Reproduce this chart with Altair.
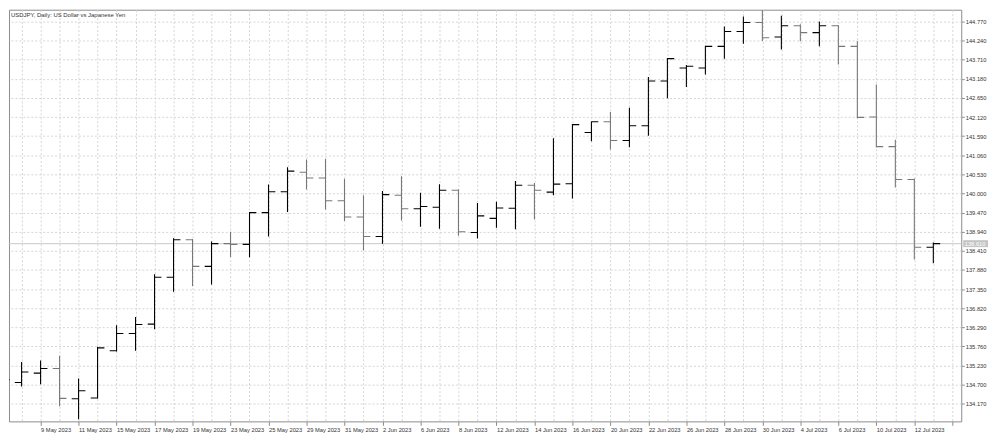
import altair as alt
import pandas as pd

# ---- data (USDJPY daily) ----
dates = ["5 May 2023", "8 May 2023", "9 May 2023", "10 May 2023", "11 May 2023", "12 May 2023",
         "15 May 2023", "16 May 2023", "17 May 2023", "18 May 2023", "19 May 2023",
         "22 May 2023", "23 May 2023", "24 May 2023", "25 May 2023", "26 May 2023",
         "29 May 2023", "30 May 2023", "31 May 2023", "1 Jun 2023", "2 Jun 2023",
         "5 Jun 2023", "6 Jun 2023", "7 Jun 2023", "8 Jun 2023", "9 Jun 2023",
         "12 Jun 2023", "13 Jun 2023", "14 Jun 2023", "15 Jun 2023", "16 Jun 2023",
         "19 Jun 2023", "20 Jun 2023", "21 Jun 2023", "22 Jun 2023", "23 Jun 2023",
         "26 Jun 2023", "27 Jun 2023", "28 Jun 2023", "29 Jun 2023", "30 Jun 2023",
         "3 Jul 2023", "4 Jul 2023", "5 Jul 2023", "6 Jul 2023", "7 Jul 2023",
         "10 Jul 2023", "11 Jul 2023", "12 Jul 2023", "13 Jul 2023"]

opens = [134.29, 134.76, 135.02, 135.15, 134.31, 134.33,
         135.64, 136.12, 136.38, 137.68, 138.72,
         137.98, 138.61, 138.59, 139.47, 140.05,
         140.59, 140.43, 139.80, 139.35, 138.81,
         139.95, 139.58, 139.62, 140.09, 138.92,
         139.31, 139.59, 140.23, 140.04, 140.27,
         141.69, 141.99, 141.47, 141.88, 143.12,
         143.48, 143.48, 144.08, 144.49, 144.74,
         144.34, 144.65, 144.46, 144.65, 144.08,
         142.12, 141.30, 140.39, 138.51]

highs = [135.13, 135.33, 135.37, 135.50, 134.87, 135.75,
         136.35, 136.58, 137.76, 138.76, 138.74,
         138.67, 138.94, 139.49, 140.25, 140.73,
         140.94, 140.96, 140.41, 139.95, 140.07,
         140.48, 140.02, 140.26, 140.11, 139.74,
         139.77, 140.35, 140.29, 141.53, 141.93,
         142.00, 142.26, 142.38, 143.23, 143.76,
         143.56, 144.10, 144.63, 144.91, 145.08,
         144.93, 144.69, 144.77, 144.67, 144.22,
         143.02, 141.49, 140.42, 138.64]

lows = [133.50, 134.65, 134.71, 134.10, 133.74, 134.32,
        135.62, 135.64, 136.24, 137.28, 137.43,
        137.48, 138.24, 138.23, 138.81, 139.49,
        140.11, 139.56, 139.24, 138.42, 138.61,
        139.25, 139.08, 139.02, 138.83, 138.75,
        139.05, 139.01, 139.28, 139.95, 139.86,
        141.45, 141.22, 141.28, 141.60, 142.64,
        142.95, 143.30, 143.74, 144.15, 144.23,
        143.99, 144.22, 144.08, 143.58, 142.09,
        141.28, 140.17, 138.17, 138.07]

closes = [134.84, 135.05, 135.15, 134.32, 134.53, 135.72,
          136.12, 136.37, 137.68, 138.72, 137.98,
          138.61, 138.59, 139.47, 140.05, 140.62,
          140.43, 139.80, 139.35, 138.81, 139.97,
          139.58, 139.64, 140.09, 138.94, 139.38,
          139.60, 140.23, 140.09, 140.26, 141.91,
          141.99, 141.47, 141.88, 143.12, 143.74,
          143.53, 144.08, 144.49, 144.74, 144.32,
          144.65, 144.46, 144.65, 144.08, 142.11,
          141.30, 140.39, 138.51, 138.61]

price_ticks = [134.170, 134.700, 135.230, 135.760, 136.290, 136.820, 137.350, 137.880,
               138.410, 138.940, 139.470, 140.000, 140.530, 141.060, 141.590, 142.120,
               142.650, 143.180, 143.710, 144.240, 144.770]

title_text = "USDJPY, Daily:  US Dollar vs Japanese Yen"

df = pd.DataFrame({"i": list(range(len(dates))), "date": dates, "open": opens,
                   "high": highs, "low": lows, "close": closes})
last = df.iloc[[-1]].copy()
last["label"] = last["close"].map(lambda v: f"{v:.3f}")

FONT = "Liberation Sans"
X_DOMAIN = [0.337, 50.47]
Y_DOMAIN = [133.683, 145.096]
HALF = 0.36

label_array = "[" + ",".join("'" + d + "'" for d in dates) + "]"
x_axis = alt.Axis(
    values=list(range(0, 51)),
    labelExpr=f"(datum.value % 2 == 0 && datum.value < {len(dates)}) ? {label_array}[datum.value] : ''",
    grid=True, gridDash=[2, 2], gridColor="#d4d4d4", gridWidth=1,
    domain=False, ticks=True, tickSize=4,
    tickColor={"condition": {"test": "datum.value % 2 == 0", "value": "#8c8c8c"}, "value": "transparent"},
    labelAlign="left", labelBaseline="top", labelPadding=1, labelFontSize=5.8,
    labelFont=FONT, labelColor="#333333", labelOverlap=False, labelBound=False,
    labelFlush=False, title=None,
)
y_axis = alt.Axis(
    orient="right", values=price_ticks, format=".3f",
    grid=True, gridDash=[2, 2], gridColor="#d4d4d4", gridWidth=1,
    domain=False, tickSize=3, tickColor="#8c8c8c", labelPadding=1,
    labelFontSize=5.8, labelFont=FONT, labelColor="#333333", labelOverlap=False,
    labelBound=False, labelFlush=False, title=None,
)

xs = alt.Scale(domain=X_DOMAIN, nice=False, zero=False)
ys = alt.Scale(domain=Y_DOMAIN, nice=False, zero=False)
bar_color = alt.condition("datum.close >= datum.open", alt.value("#000000"), alt.value("#777777"))

base = alt.Chart(df)

price_line = alt.Chart(last).mark_rule(color="#c8c8c8", strokeWidth=1).encode(
    y=alt.Y("close:Q", scale=ys, axis=y_axis)
)

hl = base.mark_rule(strokeWidth=1.1, clip=True).encode(
    x=alt.X("i:Q", scale=xs, axis=x_axis),
    y=alt.Y("low:Q", scale=ys, axis=y_axis),
    y2="high:Q",
    color=bar_color,
)

open_tick = base.transform_calculate(xo=f"datum.i - {HALF}").mark_rule(strokeWidth=1.1, clip=True).encode(
    x=alt.X("xo:Q", scale=xs, axis=x_axis),
    x2="i:Q",
    y=alt.Y("open:Q", scale=ys, axis=y_axis),
    color=bar_color,
)

close_tick = base.transform_calculate(xc=f"datum.i + {HALF}").mark_rule(strokeWidth=1.1, clip=True).encode(
    x=alt.X("i:Q", scale=xs, axis=x_axis),
    x2="xc:Q",
    y=alt.Y("close:Q", scale=ys, axis=y_axis),
    color=bar_color,
)

box = alt.Chart(last).mark_rule(color="#c4c4c4", strokeWidth=7, strokeCap="butt", clip=False).encode(
    x=alt.value(962), x2=alt.value(987),
    y=alt.Y("close:Q", scale=ys, axis=y_axis),
)
box_text = alt.Chart(last).mark_text(
    align="left", baseline="middle", dx=0, fontSize=5.8, font=FONT, color="#ffffff", clip=False
).encode(
    x=alt.value(963.5),
    y=alt.Y("close:Q", scale=ys, axis=y_axis),
    text="label:N",
)

title = alt.Chart(pd.DataFrame({"t": [title_text]})).mark_text(
    align="left", baseline="top", fontSize=6, font=FONT, color="#333333"
).encode(x=alt.value(2), y=alt.value(2), text="t:N")

chart = alt.layer(price_line, hl, open_tick, close_tick, box, box_text, title).properties(
    width=960, height=415, padding={"left": 0, "top": 0, "right": 0, "bottom": 0},
    background="#ffffff",
).configure_view(stroke="#8c8c8c", strokeWidth=1)

chart.save("out.html", embed_options={"renderer": "svg", "actions": False})
